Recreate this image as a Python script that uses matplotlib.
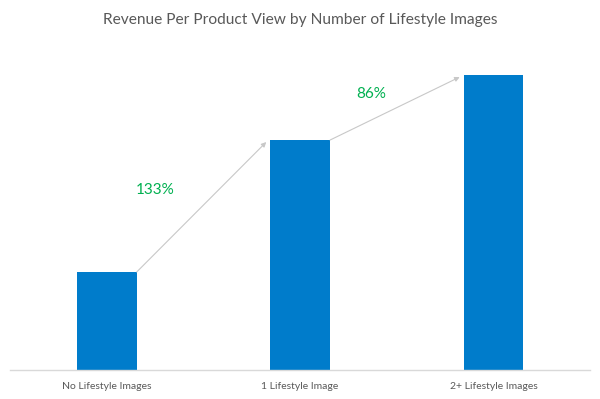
import matplotlib.pyplot as plt

categories = ["No Lifestyle Images", "1 Lifestyle Image", "2+ Lifestyle Images"]
revenue = [0.98, 2.30, 2.95]
changes = ["133%", "86%"]

plt.rcParams["font.family"] = ["Lato", "DejaVu Sans"]

fig = plt.figure(figsize=(6, 3.99), dpi=100)
ax = fig.add_axes([0.0167, 0.0727, 0.967, 0.852])

w = 0.31
x = range(len(categories))
ax.bar(x, revenue, width=w, color="#007CCB", zorder=2)

ax.set_xlim(-0.5, 2.5)
ax.set_ylim(0, 3.4)
ax.set_xticks(list(x))
ax.set_xticklabels(categories, fontsize=7.5, color="#595959")
ax.tick_params(axis="x", length=0, pad=9)
ax.set_yticks([])
for s in ["top", "right", "left"]:
    ax.spines[s].set_visible(False)
ax.spines["bottom"].set_color("#d9d9d9")
ax.spines["bottom"].set_linewidth(1.0)

# growth arrows between bar tops
for i, lab in enumerate(changes):
    ax.annotate("", xy=(i + 1 - w / 2 - 0.02, revenue[i + 1] - 0.02),
                xytext=(i + w / 2, revenue[i]),
                arrowprops=dict(arrowstyle="-|>", color="#c8c8c8", lw=0.8,
                                mutation_scale=7, shrinkA=0, shrinkB=0))

ax.text(0.25, 1.80, changes[0], color="#00B050", fontsize=11, ha="center", va="center")
ax.text(1.37, 2.76, changes[1], color="#00B050", fontsize=11, ha="center", va="center")

fig.suptitle("Revenue Per Product View by Number of Lifestyle Images",
             x=0.5, y=0.968, fontsize=11.2, color="#595959")

fig.savefig("out.png", dpi=100)
